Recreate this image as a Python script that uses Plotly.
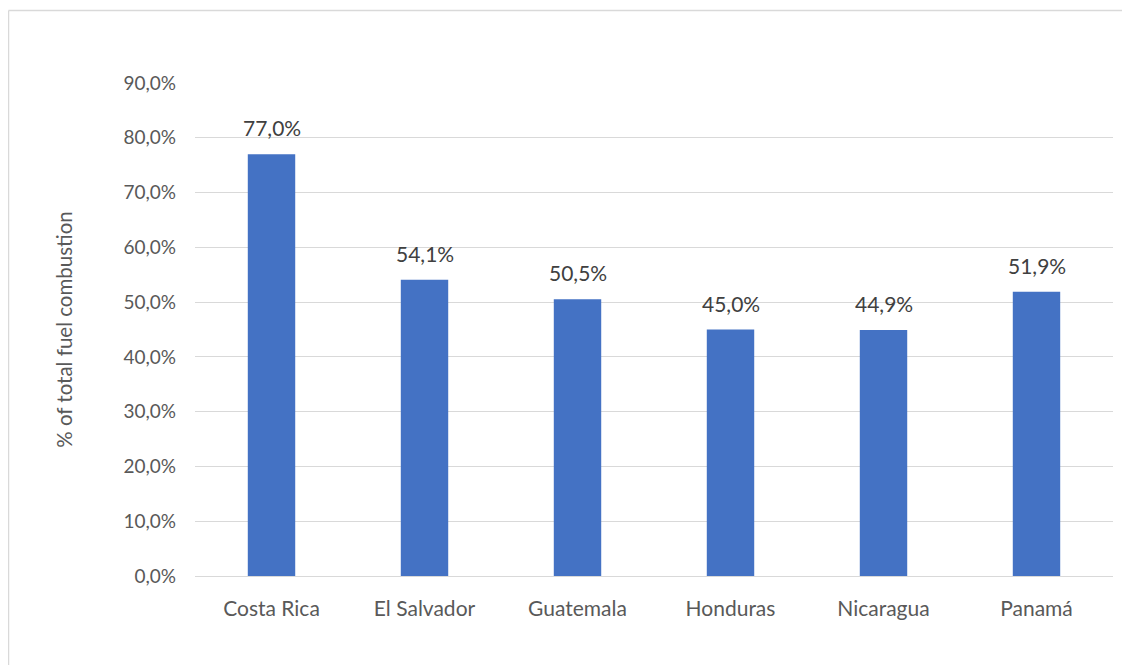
import plotly.graph_objects as go

countries = ["Costa Rica", "El Salvador", "Guatemala", "Honduras", "Nicaragua", "Panamá"]
shares = [0.770, 0.541, 0.505, 0.450, 0.449, 0.519]
y_ticks = [0.0, 0.1, 0.2, 0.3, 0.4, 0.5, 0.6, 0.7, 0.8, 0.9]

FONT = "Lato, Open Sans, sans-serif"

W, H = 1122, 657
L, R, T, B = 187, 17, 75, 89
PW, PH = W - L - R, H - T - B

fig = go.Figure()
fig.add_trace(go.Bar(
    x=countries, y=shares,
    marker=dict(color="#4472C4", line=dict(width=0)),
    width=0.31,
    hoverinfo="x+y",
))

for c, v in zip(countries, shares):
    fig.add_annotation(
        x=c, y=v, text=f"{v*100:.1f}%".replace(".", ","),
        showarrow=False, yanchor="bottom", yshift=12,
        font=dict(family=FONT, size=21, color="#404040"),
    )

fig.update_layout(
    width=W, height=H,
    margin=dict(l=L, r=R, t=T, b=B, autoexpand=False),
    paper_bgcolor="white", plot_bgcolor="white",
    separators=",.",
    showlegend=False,
    font=dict(family=FONT, color="#595959"),
    xaxis=dict(
        showgrid=False, showline=True, linecolor="#D9D9D9", linewidth=1,
        ticks="", ticklabelstandoff=14,
        tickfont=dict(family=FONT, size=21, color="#595959"),
    ),
    yaxis=dict(
        range=[0, 0.9], tickvals=y_ticks, tickformat=".1%",
        showgrid=True, gridcolor="#D9D9D9", gridwidth=1,
        zeroline=False, showline=False, ticks="", ticklabelstandoff=18,
        tickfont=dict(family=FONT, size=19, color="#595959"),
        title=dict(text="% of total fuel combustion", standoff=45,
                   font=dict(family=FONT, size=20.5, color="#595959")),
    ),
    shapes=[
        dict(type="line", xref="paper", yref="paper",
             x0=(0.5 - L) / PW, x1=(0.5 - L) / PW,
             y0=-B / PH - 0.1, y1=(PH + T - 2.5) / PH,
             line=dict(color="#D9D9D9", width=1.5)),
        dict(type="line", xref="paper", yref="paper",
             x0=(0.5 - L) / PW, x1=1 + R / PW + 0.1,
             y0=(PH + T - 2.5) / PH, y1=(PH + T - 2.5) / PH,
             line=dict(color="#D9D9D9", width=1.5)),
    ],
)

fig.write_html("out.html")
